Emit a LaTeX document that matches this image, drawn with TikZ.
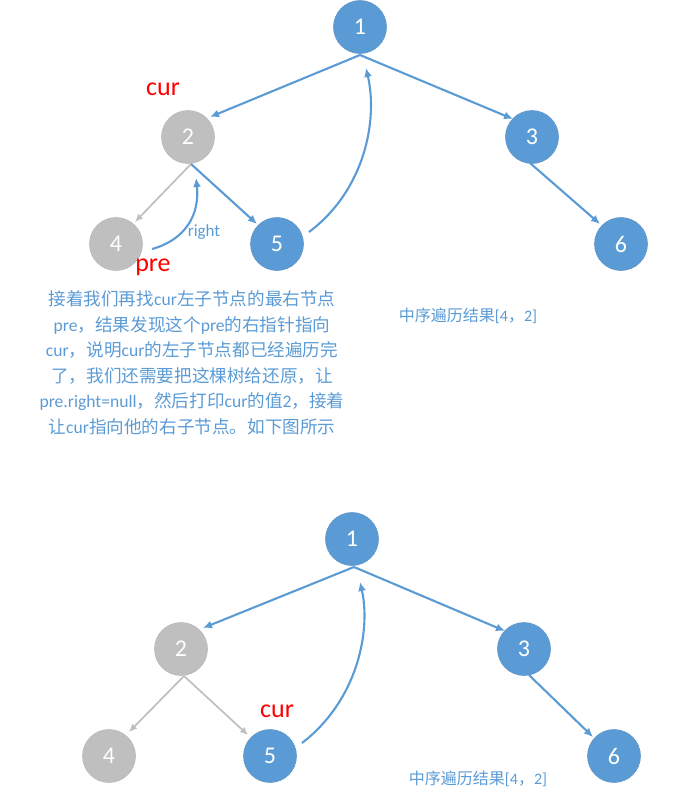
\documentclass[tikz,border=0pt]{standalone}
\usepackage{fontspec}
\setmainfont{Carlito}
\newfontfamily\cjk{Noto Sans CJK SC}
\usetikzlibrary{arrows.meta}
\definecolor{nodeblue}{HTML}{5B9BD5}
\definecolor{nodegrey}{HTML}{BFBFBF}
\definecolor{markred}{HTML}{FF0000}
\tikzset{
  tnode/.style={circle, minimum size=53pt, inner sep=0pt, text=white, font=\fontsize{24}{26}\selectfont},
  bluenode/.style={tnode, fill=nodeblue, draw=nodeblue!85!gray, line width=0.6pt},
  greynode/.style={tnode, fill=nodegrey, draw=nodegrey!90!gray, line width=0.6pt},
  blueedge/.style={draw=nodeblue, line width=2.1pt, -{Latex[length=9pt,width=8pt]}},
  greyedge/.style={draw=nodegrey, line width=1.7pt, -{Latex[length=8pt,width=7pt]}},
  marker/.style={text=markred, font=\fontsize{26}{28}\selectfont},
  note/.style={text=nodeblue, font=\fontsize{17.6}{25.5}\selectfont, align=center},
  result/.style={text=nodeblue, font=\fontsize{16}{18}\selectfont},
}
\begin{document}
\begin{tikzpicture}[x=1pt, y=-1pt]
\useasboundingbox (0,0) rectangle (690,801);

% ---------- upper tree ----------
\node[bluenode] (a1) at (360,27) {1};
\node[greynode] (a2) at (188,137) {2};
\node[bluenode] (a3) at (532,137) {3};
\node[greynode] (a4) at (116,244) {4};
\node[bluenode] (a5) at (277,244) {5};
\node[bluenode] (a6) at (621,244) {6};

\coordinate (a1b) at (360,55);
\coordinate (a2b) at (191,164);
\coordinate (a3b) at (530,163);
\draw[blueedge] (a1b) -- (210,117);
\draw[blueedge] (a1b) -- (513,119);
\draw[greyedge] (a2b) -- (135,222);
\draw[blueedge] (a2b) -- (257,224);
\draw[blueedge] (a3b) -- (600,224);

% thread from 4 back to 2
\draw[blueedge] (152,249) .. controls (185,240) and (200,215) .. (196,178);
\node[text=nodeblue, font=\fontsize{17}{19}\selectfont] (lright) at (204,232) {right};
% thread from 5 back to 1
\draw[blueedge] (309,232) .. controls (365,190) and (378,120) .. (366,68);

\node[marker] (lcur) at (163,89) {cur};
\node[marker] (lpre) at (153,267) {pre};

\node[note] (txt) at (192,363) {%
{\cjk 接着我们再找}cur{\cjk 左子节点的最右节点}\\
pre{\cjk ，结果发现这个}pre{\cjk 的右指针指向}\\
cur{\cjk ，说明}cur{\cjk 的左子节点都已经遍历完}\\
{\cjk 了，我们还需要把这棵树给还原，让}\\
pre.right=null{\cjk ，然后打印}cur{\cjk 的值}2{\cjk ，接着}\\
{\cjk 让}cur{\cjk 指向他的右子节点。如下图所示}};

\node[result] (res1) at (468,316) {{\cjk 中序遍历结果}[4{\cjk ，}2]};

% ---------- lower tree ----------
\node[bluenode] (b1) at (352,539) {1};
\node[greynode] (b2) at (181,649) {2};
\node[bluenode] (b3) at (524,649) {3};
\node[greynode] (b4) at (109,756) {4};
\node[bluenode] (b5) at (270,756) {5};
\node[bluenode] (b6) at (614,756) {6};

\coordinate (b1b) at (354,567);
\coordinate (b2b) at (184,676);
\coordinate (b3b) at (529,675);
\draw[blueedge] (b1b) -- (203,628);
\draw[blueedge] (b1b) -- (505,631);
\draw[greyedge] (b2b) -- (129,732);
\draw[greyedge] (b2b) -- (248,735);
\draw[blueedge] (b3b) -- (593,737);
% thread from 5 back to 1
\draw[blueedge] (302,743) .. controls (358,700) and (371,630) .. (360,582);

\node[marker] (bcur) at (277,711) {cur};
\node[result] (res2) at (478,779) {{\cjk 中序遍历结果}[4{\cjk ，}2]};
\end{tikzpicture}
\end{document}
